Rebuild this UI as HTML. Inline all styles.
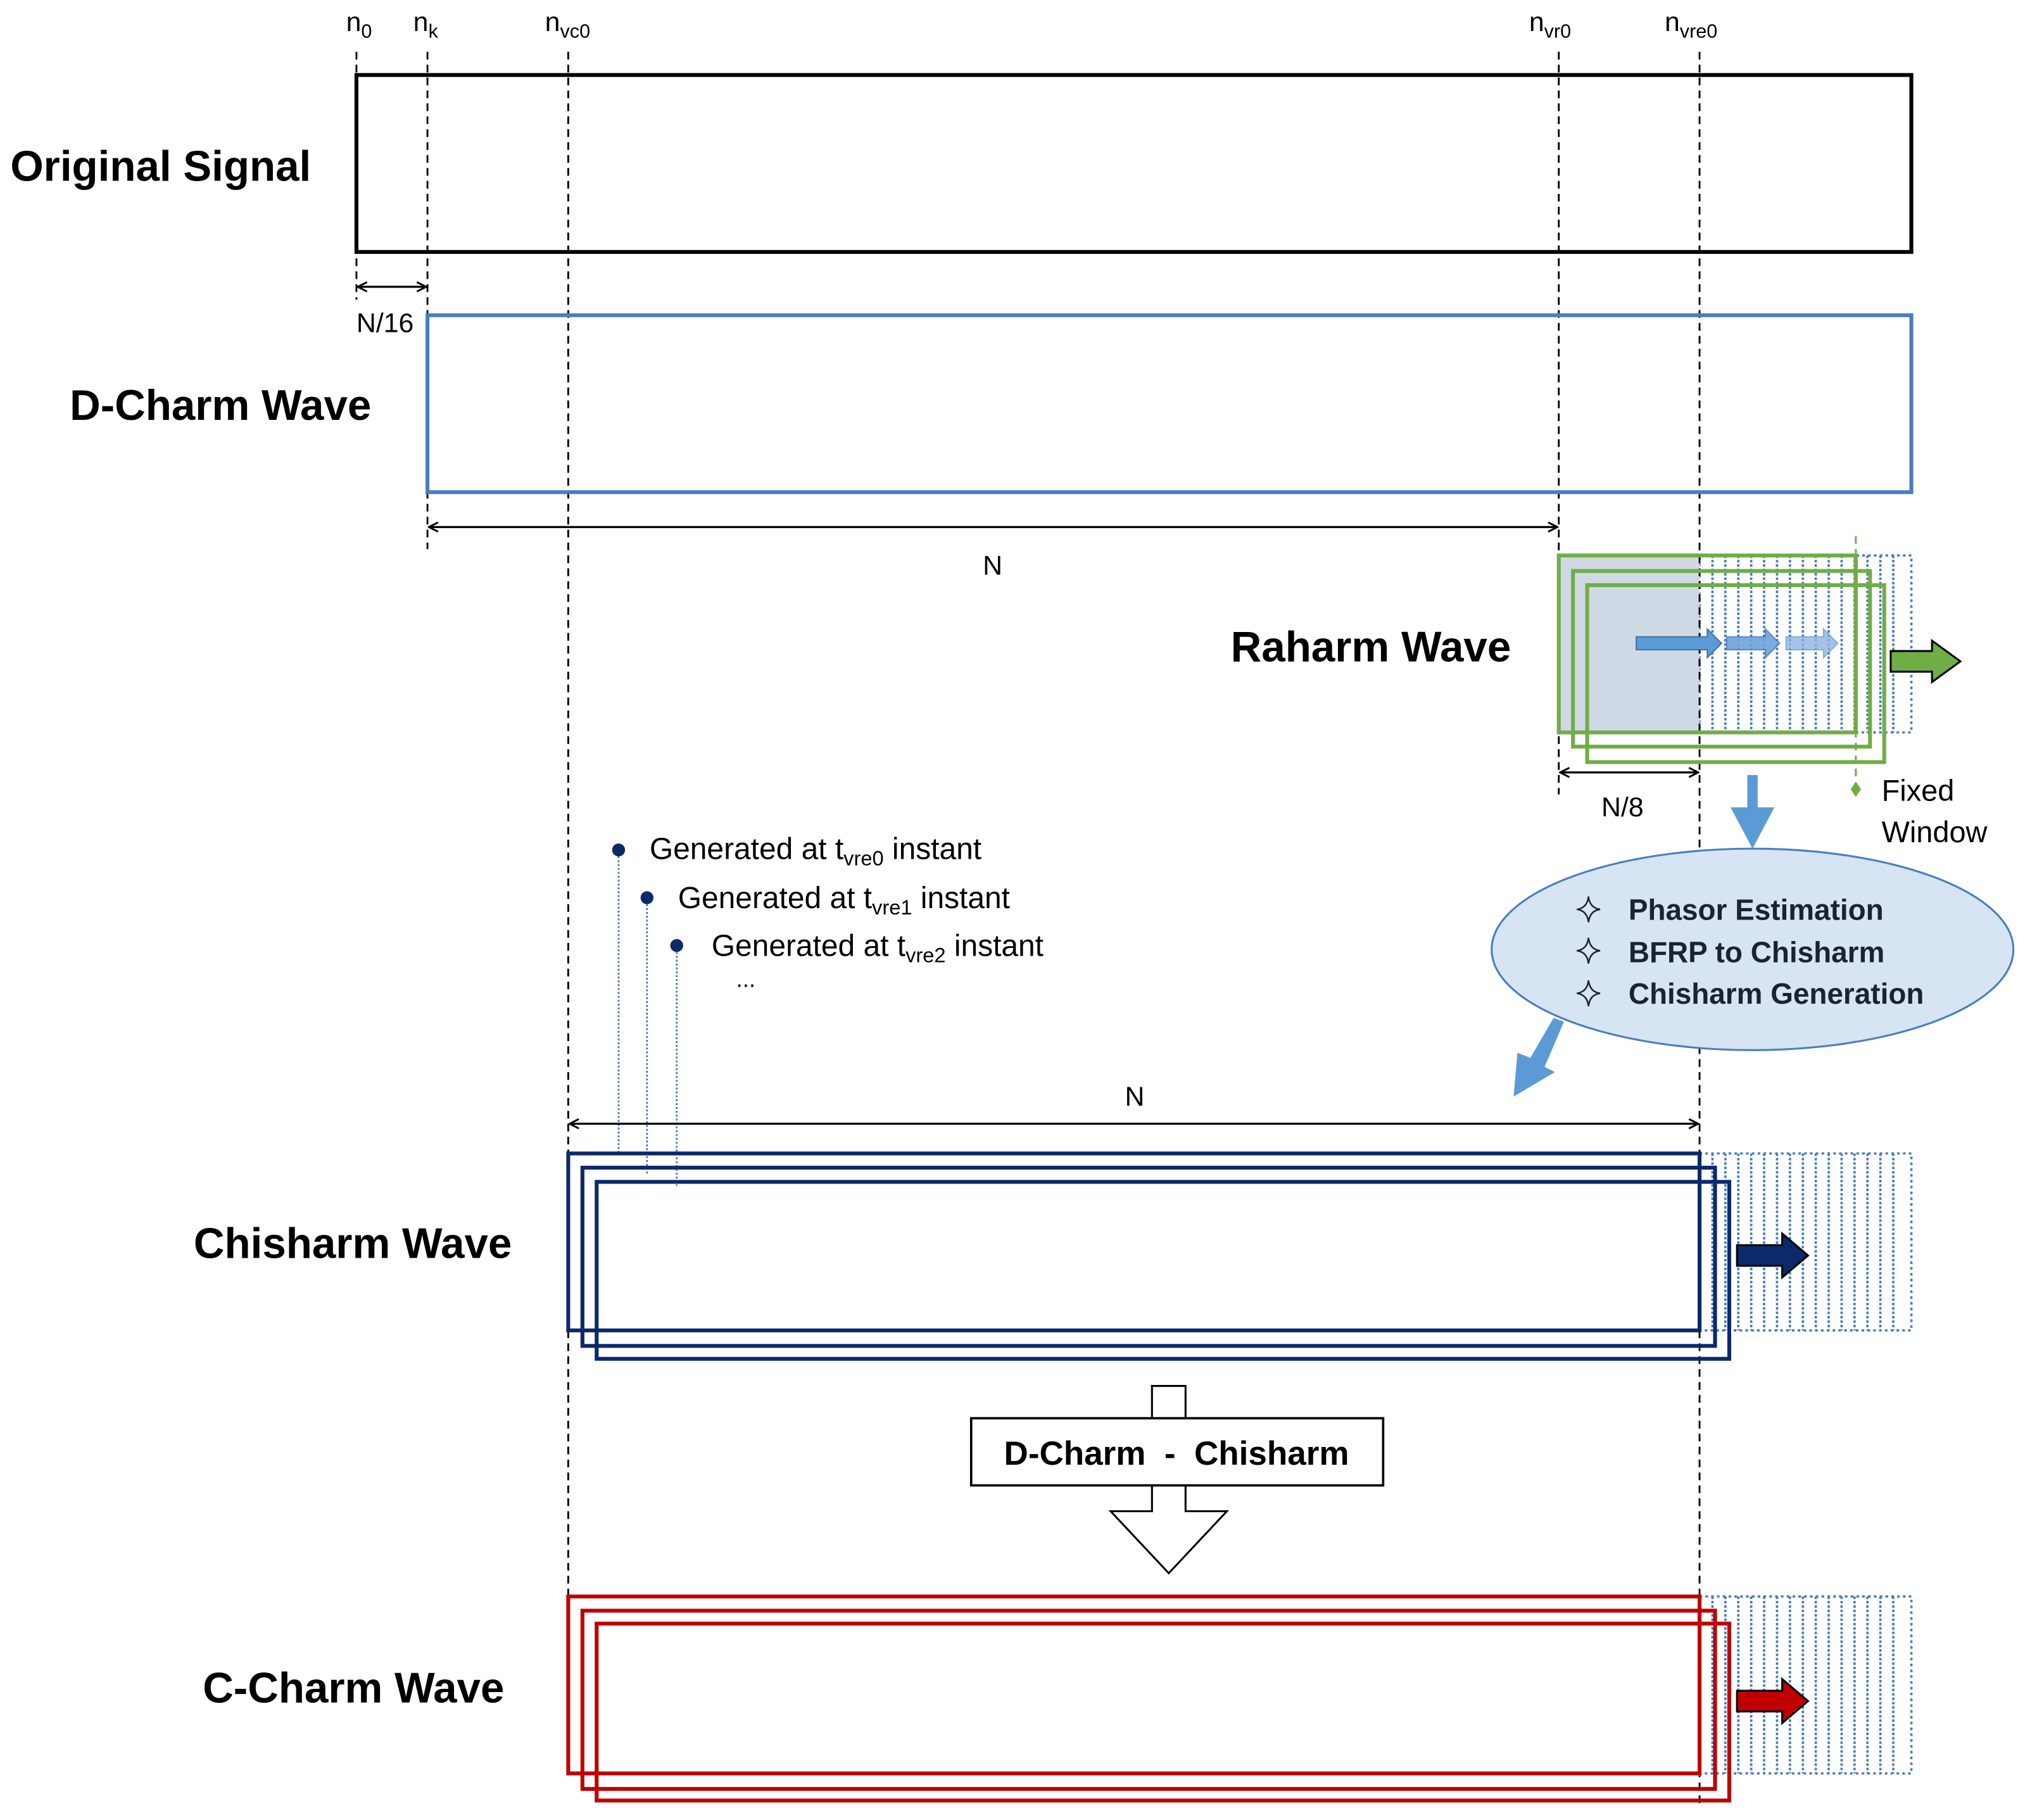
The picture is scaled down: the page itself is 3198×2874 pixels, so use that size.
<!DOCTYPE html>
<html><head><meta charset="utf-8"><style>html,body{margin:0;padding:0;background:#fff}svg{display:block}</style></head>
<body>
<svg width="3198" height="2874" viewBox="0 0 1568 1409" xmlns="http://www.w3.org/2000/svg" font-family="Liberation Sans, sans-serif">
<defs>
<marker id="ah" viewBox="0 0 10 10" refX="9" refY="5" markerWidth="9" markerHeight="9" orient="auto-start-reverse" markerUnits="userSpaceOnUse">
<path d="M1,1 L9,5 L1,9" fill="none" stroke="#000" stroke-width="1.6"/>
</marker>
<g id="vl" stroke="#4a7ebb" stroke-width="1.8" stroke-dasharray="2 1.4">
<line x1="1326" y1="0" x2="1326" y2="137"/><line x1="1336" y1="0" x2="1336" y2="137"/>
<line x1="1346" y1="0" x2="1346" y2="137"/><line x1="1356" y1="0" x2="1356" y2="137"/>
<line x1="1366" y1="0" x2="1366" y2="137"/><line x1="1376" y1="0" x2="1376" y2="137"/>
<line x1="1386" y1="0" x2="1386" y2="137"/><line x1="1396" y1="0" x2="1396" y2="137"/>
<line x1="1406" y1="0" x2="1406" y2="137"/><line x1="1416" y1="0" x2="1416" y2="137"/>
<line x1="1426" y1="0" x2="1426" y2="137"/><line x1="1436" y1="0" x2="1436" y2="137"/>
<line x1="1446" y1="0" x2="1446" y2="137"/><line x1="1456" y1="0" x2="1456" y2="137"/>
<line x1="1466" y1="0" x2="1466" y2="137"/>
<rect x="1316" y="0" width="164" height="137" fill="none" stroke-dasharray="2 2.5"/>
</g>
</defs>
<rect width="1568" height="1409" fill="#fff"/>

<use href="#vl" y="430"/>
<use href="#vl" y="893"/>
<use href="#vl" y="1236"/>

<rect x="1207" y="430" width="109" height="137" fill="#cfd9e5"/>

<g stroke="#000" stroke-width="1.4" stroke-dasharray="6 4" fill="none">
<line x1="276" y1="40" x2="276" y2="232"/>
<line x1="331" y1="40" x2="331" y2="425"/>
<line x1="440" y1="40" x2="440" y2="1240"/>
<line x1="1207" y1="40" x2="1207" y2="615"/>
<line x1="1316" y1="40" x2="1316" y2="1400"/>
</g>

<g font-size="21" fill="#000">
<text x="268" y="24">n<tspan font-size="15" dy="5">0</tspan></text>
<text x="320" y="24">n<tspan font-size="15" dy="5">k</tspan></text>
<text x="422" y="24">n<tspan font-size="15" dy="5">vc0</tspan></text>
<text x="1184" y="24">n<tspan font-size="15" dy="5">vr0</tspan></text>
<text x="1289" y="24">n<tspan font-size="15" dy="5">vre0</tspan></text>
</g>

<rect x="276" y="58" width="1204" height="137" fill="none" stroke="#000" stroke-width="3"/>
<text x="8" y="140" font-size="33" font-weight="bold">Original Signal</text>

<line x1="277" y1="222" x2="330" y2="222" stroke="#000" stroke-width="1.6" marker-start="url(#ah)" marker-end="url(#ah)"/>
<text x="276" y="257" font-size="21">N/16</text>

<rect x="331" y="244" width="1149" height="137" fill="none" stroke="#4a7ebb" stroke-width="3"/>
<text x="54" y="325" font-size="33" font-weight="bold">D-Charm Wave</text>

<line x1="332" y1="408" x2="1206" y2="408" stroke="#000" stroke-width="1.6" marker-start="url(#ah)" marker-end="url(#ah)"/>
<text x="761" y="445" font-size="21">N</text>

<text x="953" y="512" font-size="33" font-weight="bold">Raharm Wave</text>
<g fill="none" stroke="#70ad47" stroke-width="3">
<rect x="1207" y="430" width="230" height="137"/>
<rect x="1218" y="442" width="230" height="136"/>
<rect x="1229" y="453" width="230" height="137"/>
</g>
<line x1="1437" y1="415" x2="1437" y2="605" stroke="#70ad47" stroke-width="1.5" stroke-dasharray="6 4"/>
<path d="M1437,605 L1441,611 L1437,617 L1433,611 Z" fill="#70ad47"/>
<text x="1457" y="620" font-size="23">Fixed</text>
<text x="1457" y="652" font-size="23">Window</text>
<path d="M1383,493 L1412,493 L1412,487 L1423,498 L1412,509 L1412,503 L1383,503 Z" fill="#8fb4e3" stroke="#5b9bd5" stroke-width="1" opacity="0.8"/>
<path d="M1337,493 L1367,493 L1367,487 L1378,498 L1367,509 L1367,503 L1337,503 Z" fill="#6fa2db" stroke="#4a7ebb" stroke-width="1" opacity="0.9"/>
<path d="M1267,493 L1322,493 L1322,487 L1333,498 L1322,509 L1322,503 L1267,503 Z" fill="#5b9bd5" stroke="#41719c" stroke-width="1"/>
<path d="M1464,504 L1496,504 L1496,496 L1518,512 L1496,528 L1496,520 L1464,520 Z" fill="#70ad47" stroke="#000" stroke-width="1.5"/>

<line x1="1208" y1="598" x2="1315" y2="598" stroke="#000" stroke-width="1.6" marker-start="url(#ah)" marker-end="url(#ah)"/>
<text x="1240" y="632" font-size="21">N/8</text>

<path d="M1353,600 L1361,600 L1361,625 L1374,625 L1357,657 L1340,625 L1353,625 Z" fill="#5b9bd5"/>

<ellipse cx="1357" cy="735" rx="202" ry="78" fill="#d6e4f3" stroke="#4a7ebb" stroke-width="1.5"/>
<g font-size="22.5" font-weight="bold" fill="#1a2333">
<text x="1261" y="712">Phasor Estimation</text>
<text x="1261" y="745">BFRP to Chisharm</text>
<text x="1261" y="777">Chisharm Generation</text>
</g>
<g fill="none" stroke="#1a2333" stroke-width="1.2">
<path d="M1230,694 Q1231,703 1239,704 Q1231,705 1230,714 Q1229,705 1221,704 Q1229,703 1230,694 Z"/>
<path d="M1230,726 Q1231,735 1239,736 Q1231,737 1230,746 Q1229,737 1221,736 Q1229,735 1230,726 Z"/>
<path d="M1230,759 Q1231,768 1239,769 Q1231,770 1230,779 Q1229,770 1221,769 Q1229,768 1230,759 Z"/>
</g>
<path d="M1203,788 L1211,791 L1196,826 L1204,830 L1172,849 L1175,815 L1185,819 Z" fill="#5b9bd5"/>

<g fill="#0b2a6b">
<circle cx="479" cy="658" r="5"/>
<circle cx="501" cy="695" r="5"/>
<circle cx="524" cy="732" r="5"/>
</g>
<g stroke="#4a6fb5" stroke-width="1.3" stroke-dasharray="1.5 1.5">
<line x1="479" y1="663" x2="479" y2="892"/>
<line x1="501" y1="700" x2="501" y2="910"/>
<line x1="524" y1="737" x2="524" y2="918"/>
</g>
<g font-size="23.5" fill="#000">
<text x="503" y="665">Generated at t<tspan font-size="16" dy="5">vre0</tspan><tspan dy="-5"> instant</tspan></text>
<text x="525" y="703">Generated at t<tspan font-size="16" dy="5">vre1</tspan><tspan dy="-5"> instant</tspan></text>
<text x="551" y="740">Generated at t<tspan font-size="16" dy="5">vre2</tspan><tspan dy="-5"> instant</tspan></text>
<text x="570" y="764" font-size="18">...</text>
</g>

<line x1="441" y1="870" x2="1315" y2="870" stroke="#000" stroke-width="1.6" marker-start="url(#ah)" marker-end="url(#ah)"/>
<text x="871" y="856" font-size="21">N</text>

<text x="150" y="974" font-size="33" font-weight="bold">Chisharm Wave</text>
<g fill="none" stroke="#0b2a6b" stroke-width="3">
<rect x="440" y="893" width="876" height="137"/>
<rect x="451" y="904" width="877" height="138"/>
<rect x="462" y="915" width="877" height="137"/>
</g>
<path d="M1345,964 L1380,964 L1380,955 L1400,972 L1380,989 L1380,980 L1345,980 Z" fill="#0b2a6b" stroke="#000" stroke-width="1.5"/>

<path d="M892,1100 L892,1073 L918,1073 L918,1100" fill="#fff" stroke="#000" stroke-width="1.5"/>
<path d="M892,1150 L892,1170 L860,1170 L905,1218 L950,1170 L918,1170 L918,1150" fill="#fff" stroke="#000" stroke-width="1.5"/>
<rect x="752" y="1098" width="319" height="52" fill="#fff" stroke="#000" stroke-width="1.8"/>
<text x="911" y="1134" font-size="26" font-weight="bold" text-anchor="middle" xml:space="preserve">D-Charm  -  Chisharm</text>

<text x="157" y="1318" font-size="33" font-weight="bold">C-Charm Wave</text>
<g fill="none" stroke="#c00000" stroke-width="3">
<rect x="440" y="1236" width="876" height="137"/>
<rect x="451" y="1247" width="877" height="138"/>
<rect x="462" y="1257" width="877" height="137"/>
</g>
<path d="M1345,1309 L1380,1309 L1380,1300 L1400,1317 L1380,1334 L1380,1325 L1345,1325 Z" fill="#c00000" stroke="#000" stroke-width="1.5"/>
</svg>
</body></html>
